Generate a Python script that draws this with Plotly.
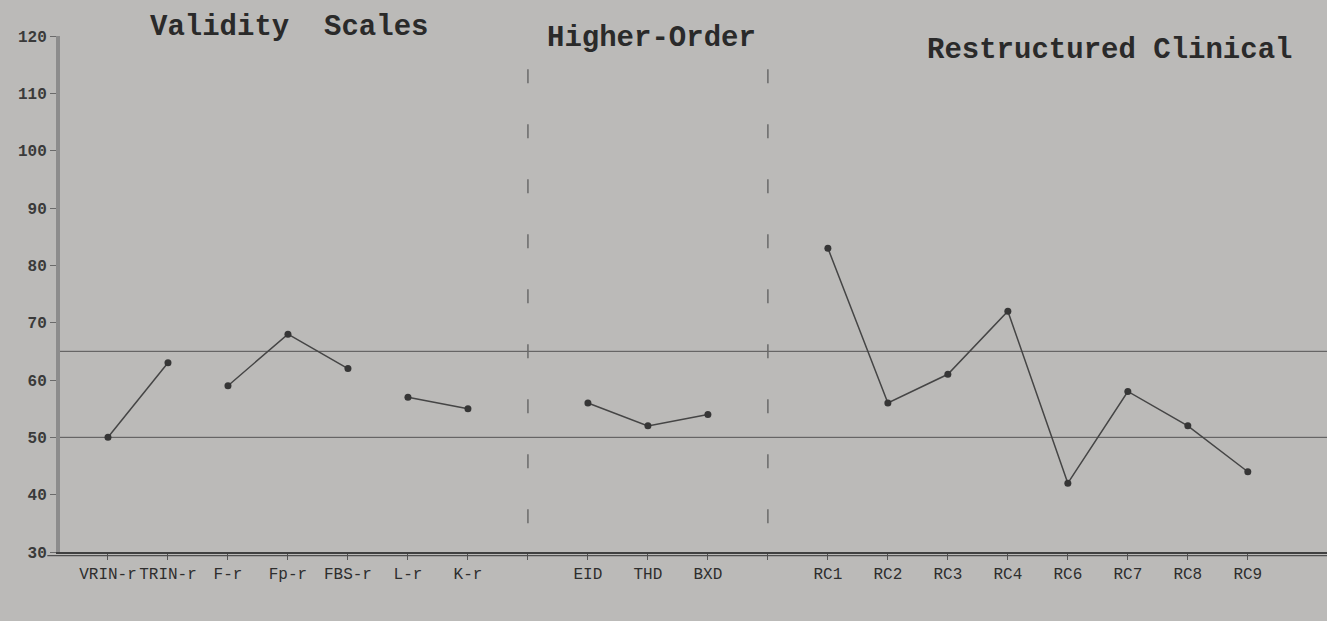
import plotly.graph_objects as go

# ---- data (T-scores read from the profile) ----
validity_scales = ["VRIN-r", "TRIN-r", "F-r", "Fp-r", "FBS-r", "L-r", "K-r"]
validity_t = [50, 63, 59, 68, 62, 57, 55]
validity_groups = [[0, 1], [2, 3, 4], [5, 6]]  # which scales are joined by a line

higher_order_scales = ["EID", "THD", "BXD"]
higher_order_t = [56, 52, 54]

rc_scales = ["RC1", "RC2", "RC3", "RC4", "RC6", "RC7", "RC8", "RC9"]
rc_t = [83, 56, 61, 72, 42, 58, 52, 44]

section_titles = ["Validity\u00a0\u00a0Scales", "Higher-Order", "Restructured Clinical"]
reference_lines = [65, 50]
y_ticks = [30, 40, 50, 60, 70, 80, 90, 100, 110, 120]

# ---- layout of slots along x (blank slot between sections) ----
slot_labels = validity_scales + [""] + higher_order_scales + [""] + rc_scales
slot_x = list(range(1, len(slot_labels) + 1))
val_x = slot_x[0:len(validity_scales)]
ho_start = len(validity_scales) + 1
ho_x = slot_x[ho_start:ho_start + len(higher_order_scales)]
rc_start = ho_start + len(higher_order_scales) + 1
rc_x = slot_x[rc_start:rc_start + len(rc_scales)]
divider_x = [slot_x[len(validity_scales)], slot_x[ho_start + len(higher_order_scales)]]

LINE = "#454545"
MARK = "#363636"
BG = "#bbbab8"
FONT = "Liberation Mono, Courier New, monospace"

fig = go.Figure()

def add_group(xs, ys):
    fig.add_trace(go.Scatter(
        x=xs, y=ys, mode="lines+markers",
        line=dict(color=LINE, width=1.5),
        marker=dict(size=7, color=MARK),
        showlegend=False, hoverinfo="skip", cliponaxis=False))

for g in validity_groups:
    add_group([val_x[i] for i in g], [validity_t[i] for i in g])
add_group(ho_x, higher_order_t)
add_group(rc_x, rc_t)

# reference lines
for v in reference_lines:
    fig.add_shape(type="line", xref="paper", yref="y", x0=0, x1=1, y0=v, y1=v,
                  line=dict(color="#555555", width=1), layer="below")

# section dividers
for dx in divider_x:
    fig.add_shape(type="line", xref="x", yref="y", x0=dx, x1=dx, y0=35, y1=116,
                  line=dict(color="#6a6a6a", width=1.5, dash="14px,41px"), layer="below")

# double bottom axis line
fig.add_shape(type="line", xref="paper", yref="paper", x0=-0.01, x1=1, y0=-0.007, y1=-0.007,
              line=dict(color="#505050", width=1.2))

# section titles
title_pos = [(148, 28), (545, 38), (925, 50)]
W, H, L, T, B = 1327, 621, 60, 36, 69
ph = H - T - B
pw = W - L
for txt, (px, py) in zip(section_titles, title_pos):
    fig.add_annotation(text="<b>" + txt + "</b>", xref="paper", yref="paper",
                       x=(px - L) / pw, y=1 - (py - T) / ph, xanchor="left", yanchor="middle",
                       showarrow=False, font=dict(family=FONT, size=29, color="#2a2a2a"))

fig.update_xaxes(range=[0.2, 21.32], tickmode="array", tickvals=slot_x, ticktext=slot_labels,
                 tickangle=0,
                 showgrid=False, zeroline=False, showline=True, linecolor="#404040", linewidth=1.5,
                 ticks="outside", ticklen=6, tickcolor="#555555", tickwidth=1,
                 tickfont=dict(family=FONT, size=16, color="#2e2e2e"))
fig.update_yaxes(range=[30, 120], tickmode="array", tickvals=y_ticks,
                 ticktext=["<b>%d</b>" % t for t in y_ticks],
                 showgrid=False, zeroline=False, showline=True, linecolor="#8c8c8c", linewidth=4,
                 ticks="outside", ticklen=6, tickcolor="#6a6a6a", tickwidth=1,
                 tickfont=dict(family=FONT, size=16, color="#3a3a3a"))

fig.update_layout(width=W, height=H, margin=dict(l=L, r=0, t=T, b=B),
                  paper_bgcolor=BG, plot_bgcolor=BG, showlegend=False)

fig.write_html("out.html", config={"displayModeBar": False},
               post_script="document.body.style.margin='0';document.body.style.overflow='hidden';"
                           "document.body.style.background='" + BG + "';")
